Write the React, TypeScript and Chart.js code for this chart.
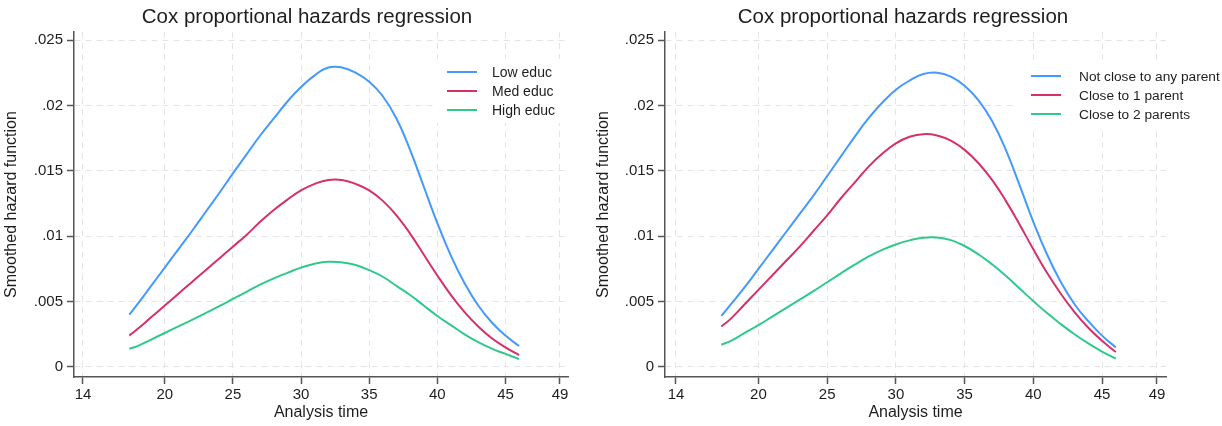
import React, { useEffect, useRef } from "react";
import { Chart, registerables } from "chart.js";

Chart.register(...registerables);

// ---------- text ----------
const chartTitle = "Cox proportional hazards regression";
const yAxisTitle = "Smoothed hazard function";
const xAxisTitle = "Analysis time";

// ---------- ticks ----------
const xTickValues = [14, 20, 25, 30, 35, 40, 45, 49];
const yTickValues = [0, 0.005, 0.01, 0.015, 0.02, 0.025];
const yTickLabels = ["0", ".005", ".01", ".015", ".02", ".025"];

// ---------- left panel: education ----------
const educLabels = ["Low educ", "Med educ", "High educ"];
const educTimes = [17.4, 18, 19, 20, 21, 22, 23, 24, 25, 26, 27, 28, 29, 30, 31, 32, 33, 34, 35, 36, 37, 38, 39, 40, 41, 42, 43, 44, 45, 46];
const lowEduc = [0.004, 0.0048, 0.0062, 0.0076, 0.009, 0.0104, 0.01185, 0.0133, 0.0148, 0.01625, 0.0177, 0.019, 0.0203, 0.0214, 0.0223, 0.0229, 0.0229, 0.0225, 0.0218, 0.0207, 0.019, 0.0166, 0.0138, 0.011, 0.0085, 0.0064, 0.0047, 0.0034, 0.0024, 0.0016];
const medEduc = [0.0024, 0.0029, 0.0038, 0.0047, 0.0056, 0.0065, 0.0074, 0.0083, 0.0092, 0.0101, 0.0111, 0.012, 0.0128, 0.0135, 0.014, 0.0143, 0.0143, 0.014, 0.0135, 0.0127, 0.0116, 0.0102, 0.0086, 0.007, 0.0055, 0.0042, 0.0031, 0.0022, 0.0015, 0.0009];
const highEduc = [0.0014, 0.0016, 0.0021, 0.0026, 0.0031, 0.0036, 0.00412, 0.00465, 0.0052, 0.00575, 0.0063, 0.00678, 0.0072, 0.0076, 0.0079, 0.00805, 0.008, 0.0078, 0.0074, 0.0069, 0.0062, 0.0055, 0.0047, 0.0039, 0.0032, 0.0025, 0.0019, 0.0014, 0.001, 0.0006];

// ---------- right panel: closeness to parents ----------
const parentLabels = ["Not close to any parent", "Close to 1 parent", "Close to 2 parents"];
const parentTimes = [17.3, 18, 19, 20, 21, 22, 23, 24, 25, 26, 27, 28, 29, 30, 31, 32, 33, 34, 35, 36, 37, 38, 39, 40, 41, 42, 43, 44, 45, 46];
const notClose = [0.0039, 0.0048, 0.0061, 0.0075, 0.0089, 0.0103, 0.0117, 0.0131, 0.0146, 0.0161, 0.0176, 0.019, 0.0202, 0.0212, 0.0219, 0.0224, 0.0225, 0.0222, 0.0215, 0.0204, 0.0188, 0.0166, 0.0139, 0.0111, 0.0086, 0.0065, 0.0048, 0.0035, 0.0024, 0.0015];
const closeOne = [0.0031, 0.0037, 0.0048, 0.0059, 0.007, 0.0081, 0.0092, 0.0104, 0.0116, 0.0129, 0.0141, 0.0153, 0.0163, 0.0171, 0.0176, 0.0178, 0.0177, 0.0173, 0.0166, 0.0156, 0.0143, 0.0127, 0.0109, 0.009, 0.0072, 0.0056, 0.0042, 0.003, 0.002, 0.00115];
const closeTwo = [0.0017, 0.002, 0.0026, 0.0032, 0.00385, 0.0045, 0.00515, 0.0058, 0.00648, 0.00716, 0.00782, 0.00843, 0.00895, 0.00937, 0.00968, 0.00988, 0.0099, 0.0097, 0.00925, 0.00862, 0.00785, 0.00697, 0.006, 0.00504, 0.00412, 0.00328, 0.0025, 0.0018, 0.00118, 0.00065];

const seriesColors = ["#4499ff", "#d6306a", "#2fc98c"];

const FONT = '"Liberation Sans", Arial, Helvetica, sans-serif';
const TEXT = "#1e1e1e";
const AXIS = "#555555";
const GRID = "#e4e4e4";

const decorPlugin = {
  id: "decor",
  afterDraw(chart: any, _args: any, opts: any) {
    const ctx = chart.ctx;
    ctx.save();
    // title
    ctx.fillStyle = TEXT;
    ctx.font = `20.5px ${FONT}`;
    ctx.textAlign = "center";
    ctx.textBaseline = "alphabetic";
    ctx.fillText(opts.title, opts.titleX, opts.titleY);
    // legend box
    ctx.fillStyle = "#ffffff";
    ctx.fillRect(opts.boxLeft, opts.boxTop, chart.chartArea.right - opts.boxLeft, opts.boxBottom - opts.boxTop);
    ctx.font = `${opts.legendFont}px ${FONT}`;
    ctx.textAlign = "left";
    ctx.textBaseline = "middle";
    chart.data.datasets.forEach((ds: any, i: number) => {
      const y = opts.legendY + i * opts.legendGap;
      ctx.strokeStyle = ds.borderColor;
      ctx.lineWidth = 2;
      ctx.beginPath();
      ctx.moveTo(opts.legendX, y);
      ctx.lineTo(opts.legendX + 30, y);
      ctx.stroke();
      ctx.fillStyle = TEXT;
      ctx.fillText(ds.label, opts.legendX + opts.textGap, y + 1);
    });
    ctx.restore();
  },
};

type PanelProps = {
  left: number;
  width: number;
  times: number[];
  series: number[][];
  labels: string[];
  xMin: number;
  xMax: number;
  yAxisWidth: number;
  plotRight: number;
  titleX: number;
  legendX: number;
  legendY: number;
  legendFont: number;
  textGap: number;
  boxLeft: number;
  boxTop: number;
  boxBottom: number;
};

const yMin = -0.000765;
const yMax = 0.025612;

function Panel(p: PanelProps) {
  const ref = useRef<HTMLCanvasElement | null>(null);
  useEffect(() => {
    if (!ref.current) return;
    const datasets = p.series.map((vals, si) => ({
      label: p.labels[si],
      data: p.times.map((t, i) => ({ x: t, y: vals[i] })),
      borderColor: seriesColors[si],
      backgroundColor: seriesColors[si],
      borderWidth: 2,
      pointRadius: 0,
      fill: false,
      tension: 0.45,
    }));
    const chart = new Chart(ref.current, {
      type: "line",
      data: { datasets },
      plugins: [decorPlugin],
      options: {
        animation: false,
        responsive: false,
        devicePixelRatio: 1,
        layout: { padding: { left: 0, top: 32, right: p.width - p.plotRight, bottom: 0 } },
        plugins: {
          legend: { display: false },
          title: { display: false },
          tooltip: { enabled: false },
          decor: {
            title: chartTitle,
            titleX: p.titleX,
            titleY: 23,
            legendX: p.legendX,
            legendY: p.legendY,
            legendGap: 19,
            legendFont: p.legendFont,
            textGap: p.textGap,
            boxLeft: p.boxLeft,
            boxTop: p.boxTop,
            boxBottom: p.boxBottom,
          },
        } as any,
        scales: {
          x: {
            type: "linear",
            min: p.xMin,
            max: p.xMax,
            bounds: "data",
            afterBuildTicks: (s: any) => {
              s.ticks = xTickValues.map((v) => ({ value: v }));
            },
            afterFit: (s: any) => {
              s.height = 49;
            },
            ticks: {
              color: TEXT,
              font: { size: 15, family: FONT },
              padding: 2,
              maxRotation: 0,
              autoSkip: false,
              callback: (v: any) => String(v),
            },
            grid: {
              color: GRID,
              lineWidth: 1,
              tickLength: 7,
              tickColor: AXIS,
              tickWidth: 1.5,
            },
            border: { display: true, color: AXIS, width: 1.5, dash: [6, 5] },
            title: {
              display: true,
              text: xAxisTitle,
              color: TEXT,
              font: { size: 16, family: FONT },
              padding: { top: 0, bottom: 4 },
            },
          },
          y: {
            type: "linear",
            min: yMin,
            max: yMax,
            bounds: "data",
            afterBuildTicks: (s: any) => {
              s.ticks = yTickValues.map((v) => ({ value: v }));
            },
            afterFit: (s: any) => {
              s.width = p.yAxisWidth;
            },
            ticks: {
              color: TEXT,
              font: { size: 15, family: FONT },
              padding: 4,
              autoSkip: false,
              callback: (v: any) => yTickLabels[yTickValues.indexOf(v)] ?? "",
            },
            grid: {
              color: GRID,
              lineWidth: 1,
              tickLength: 7,
              tickColor: AXIS,
              tickWidth: 1.5,
            },
            border: { display: true, color: AXIS, width: 1.5, dash: [6, 5] },
            title: {
              display: true,
              text: yAxisTitle,
              color: TEXT,
              font: { size: 16, family: FONT },
              padding: { top: 2.4, bottom: 0 },
            },
          },
        },
      } as any,
    });
    return () => chart.destroy();
  }, []);
  return (
    <canvas
      ref={ref}
      width={p.width}
      height={426}
      style={{ position: "absolute", left: p.left, top: 0, width: p.width, height: 426, display: "block" }}
    />
  );
}

export default function App() {
  return (
    <div style={{ position: "absolute", left: 0, top: 0, width: 1222, height: 426, background: "#fff", overflow: "hidden" }}>
      <Panel
        left={0}
        width={600}
        times={educTimes}
        series={[lowEduc, medEduc, highEduc]}
        labels={educLabels}
        xMin={13.34}
        xMax={49.587}
        yAxisWidth={74}
        plotRight={568}
        titleX={307}
        legendX={447}
        legendY={72}
        legendFont={14}
        textGap={45}
        boxLeft={433}
        boxTop={59}
        boxBottom={123}
      />
      <Panel
        left={592}
        width={630}
        times={parentTimes}
        series={[notClose, closeOne, closeTwo]}
        labels={parentLabels}
        xMin={13.2}
        xMax={49.655}
        yAxisWidth={73}
        plotRight={574}
        titleX={311}
        legendX={439}
        legendY={76}
        legendFont={13.7}
        textGap={48}
        boxLeft={426}
        boxTop={62}
        boxBottom={128}
      />
    </div>
  );
}
